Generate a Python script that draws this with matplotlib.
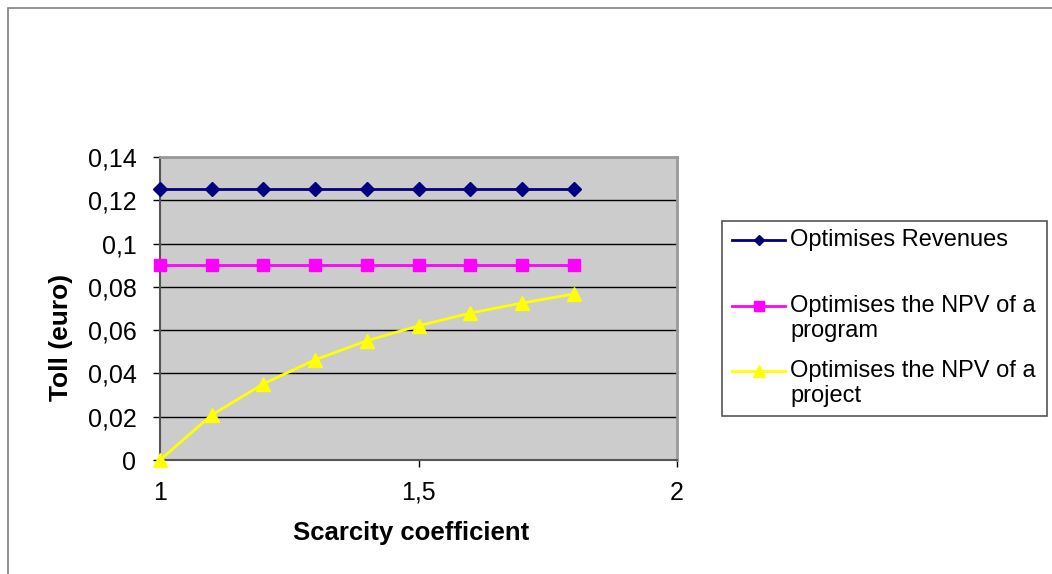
import matplotlib
matplotlib.use("Agg")
import matplotlib.pyplot as plt
from matplotlib.lines import Line2D
from matplotlib.patches import Rectangle

plt.rcParams['font.family'] = ['Liberation Sans', 'DejaVu Sans']

scarcity = [1.0, 1.1, 1.2, 1.3, 1.4, 1.5, 1.6, 1.7, 1.8]
revenues = [0.125, 0.125, 0.125, 0.125, 0.125, 0.125, 0.125, 0.125, 0.125]
npv_program = [0.09, 0.09, 0.09, 0.09, 0.09, 0.09, 0.09, 0.09, 0.09]
npv_project = [0.0, 0.0208, 0.0352, 0.0463, 0.0551, 0.0620, 0.0679, 0.0725, 0.0767]

labels = ['Optimises Revenues', 'Optimises the NPV of a\nprogram', 'Optimises the NPV of a\nproject']
colors = ['#000080', '#FF00FF', '#FFFF00']
markers = ['D', 's', '^']
msizes = [7, 9, 10]

fig = plt.figure(figsize=(10.52, 5.74), dpi=100)
# outer chart frame (Excel chart area border)
fig.patches.append(Rectangle((8 / 1052, -0.1), 1.2, 1.1 - 8 / 574, transform=fig.transFigure,
                             fill=False, edgecolor='#808080', linewidth=1.2))

ax = fig.add_axes([160 / 1052, 1 - 460 / 574, 517 / 1052, 303 / 574])
ax.set_facecolor('#CCCCCC')

for ys, c, m, ms in zip([revenues, npv_program, npv_project], colors, markers, msizes):
    ax.plot(scarcity, ys, color=c, marker=m, markersize=ms, linewidth=2, clip_on=False, zorder=3)

ax.set_xlim(1, 2)
ax.set_ylim(0, 0.14)
ax.set_xticks([1, 1.5, 2])
ax.set_xticklabels(['1', '1,5', '2'])
yt = [0, 0.02, 0.04, 0.06, 0.08, 0.1, 0.12, 0.14]
ax.set_yticks(yt)
ax.set_yticklabels(['0', '0,02', '0,04', '0,06', '0,08', '0,1', '0,12', '0,14'])
ax.tick_params(axis='both', labelsize=18, length=5, width=1, color='black', direction='out')
ax.tick_params(axis='y', pad=12)
ax.tick_params(axis='x', pad=10)

ax.grid(axis='y', color='black', linewidth=1)
ax.set_axisbelow(True)
for s in ['top', 'right']:
    ax.spines[s].set_color('#999999')
    ax.spines[s].set_linewidth(2)
for s in ['left', 'bottom']:
    ax.spines[s].set_color('#555555')
    ax.spines[s].set_linewidth(1.5)

ax.set_xlabel('Scarcity coefficient', fontsize=18.5, fontweight='bold')
ax.xaxis.set_label_coords(0.485, -0.2)
ax.set_ylabel('Toll (euro)', fontsize=19, fontweight='bold')
ax.yaxis.set_label_coords(-0.168, 0.406)

# legend drawn by hand to keep Excel's layout (handle aligned with first line)
W, H = 1052, 574
fig.patches.append(Rectangle((722 / W, 1 - 416 / H), 325 / W, 195 / H, transform=fig.transFigure,
                             facecolor='white', edgecolor='#555555', linewidth=1.2))
rows = [240, 306, 371]
for lab, c, m, ms, yy in zip(labels, colors, markers, msizes, rows):
    fy = 1 - yy / H
    fig.add_artist(Line2D([732 / W, 785 / W], [fy, fy], transform=fig.transFigure,
                          color=c, linewidth=2))
    fig.add_artist(Line2D([758.5 / W], [fy], transform=fig.transFigure, color=c,
                          marker=m, markersize=ms * 0.8))
    fig.text(790 / W, fy + 11 / H, lab, fontsize=17, va='top', ha='left', linespacing=1.2)

fig.savefig('out.png', dpi=100)
